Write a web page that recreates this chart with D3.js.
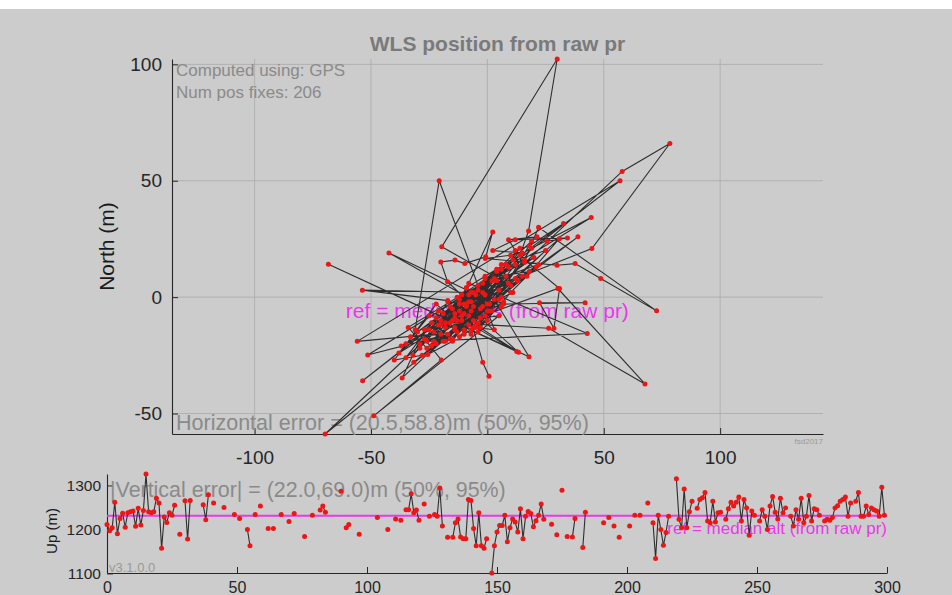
<!DOCTYPE html>
<html>
<head>
<meta charset="utf-8">
<script src="https://cdn.jsdelivr.net/npm/d3@7"></script>
<style>
  html, body { margin: 0; padding: 0; background: #cccccc; }
  svg { display: block; }
</style>
</head>
<body>
<svg id="fig" width="952" height="595"></svg>
<script>
// Horizontal WLS fixes, metres east / north of the median reference position (time order)
const eastM = [
  0.7,-2,-9,-14,-6,-19,-3,4,-8,-23,
  -16,-1,6,-12,-27,-36.6,57.9,78.4,44.9,-5,
  -11,2,-18,-7,9,-21,-13,-55.9,57,-53.6,
  -4,-30,-15,1,-24,-10,5,-20,-33,-8,
  12,-2,-17,-29,-31,-20.7,3,-6,-12,7,
  -22,-14,-38,-25,-3,10,-19.6,30,17.7,14,
  -1,-9,-16,3,17.9,-68.3,12.6,-5,-13,8,
  -26,-34,-11,15,0,-7,-22,-40,-28,-17,
  -51.4,44.6,19,-4,-12,6,-42.3,2,-9,-24,
  -15,11,-2,-20,-32,-7,-53.7,-17,-10,4,
  -25,-37,13,-20,-69.7,0,-8,16,-14,-31.6,
  38.9,21,-6,-18,5,-48.8,-19.8,-27,-11,5,
  -1,-15,-25.6,30.9,17,10,-3,-9,20,-13,
  8,-23,-7,12,-35,30.3,67.7,26.3,-16,-4,
  22,-10,-21,3,-29,14,-6,-14,2.3,-0.7,
  -9.7,-13.9,-20,-17.1,-8,9,-12,0,-26,42.9,
  -8,-18,6,-35,-22,32.7,18,12,9.1,21.3,
  25.6,34.4,12,2.3,15,10,-0.9,29.9,37.7,48.7,
  72.7,22,16,31,28.6,22.4,42,7,-5,13.4,
  -3,-11,4,-19,18,-1,-7,11,-15,25,
  6,-4,19,-10,1,-2
];
const northM = [
  -34,-28,-3,-14,2,-7,-5,7,-12,-19,
  -4,-8,0,-1,-14,-34.7,54,66,20.9,1,
  -10,7,-19,-6,13,-6,-15,-19,50,-35.9,
  3,-15,-5,-3,-11,-14,3,-16,-17,1,
  14,-4,-2,-22,-14,50,-14,-13,-6,-2,
  -20,-9,-24,-8,-9,5,21.6,102.3,28.4,18,
  9,4,-18,-1,-25.6,14.1,-23.4,-13,-10,14,
  -22,-13,1,9,-6,-16,-3,-27,-25,-16,
  -24.9,34.2,21,-11,-3,-4,19,-6,4,-21,
  -10,2,6,-10,-25,2,3,-1.5,-16,12,
  -14,-21,7,-12,-58.8,-3,-8,15,-13,-28,
  25.9,13,-10,-11,-8,-51,-27,-18,-8,-1,
  1,-19,-24.6,25.1,9,2,-13,-4,17,0,
  9,-15,-2,8,-20,3.7,-37.3,-13.4,-11,5,
  14,-7,-12,8,-20,21,-4,-7,28,17.3,
  14.4,15.9,15.1,6.6,-2,6,-17,-10,-19,-15.6,
  6,-13,12,-26,-9,31.6,22,20,24.7,25.9,
  24,25.4,24.7,20,19,18,16.6,13.7,14.4,8,
  -5.9,30,16,3.7,-13.4,-2.4,-2.4,-3,-12,-23.7,
  -9,1,11,-19,11,8,-14,16,-18,20,
  14,-15,24,-3,-6,2
];

// Time of each fix (s) and its altitude (m)
const tSec = [
  0,1,2,3,4,5,6,7,8,9,10,11,12,13,14,15,16,17,18,19,20,21,22,23,24,25,26,
  28,30,31,32,37,38,39,41,45,49,51,54,55,57,59,62,64,67,70,72,76,79,
  82,83,84,90,92,93,97,104,108,111,113,115,116,117,118,119,120,122,124,
  126,127,128,129,131,133,134,135,136,137,138,139,140,141,142,143,144,145,146,
  148,149,150,151,152,153,154,155,156,157,158,159,160,161,162,163,164,165,166,167,168,
  171,173,175,177,179,180,183,184,191,193,195,197,201,203,205,208,
  210,211,212,213,214,215,216,
  219,220,221,222,223,224,225,227,228,229,230,231,232,233,234,235,236,
  238,239,240,241,242,243,244,245,246,247,248,249,
  251,252,253,254,255,256,257,258,259,260,261,
  263,264,265,266,267,268,269,270,271,272,273,274,
  276,277,278,279,280,281,282,283,284,285,286,
  288,289,290,291,292,293,294,295,296,297,298,299
];
const upM = [
  1211,1197,1204,1262,1190,1225,1237,1205,1238,1240,1242,1207,1248,1210,1243,1326,1240,1238,1240,1271,1260,1157,1228,1216,1238,1232,1255,
  1189,1265,1178,1266,1256,1222,1279,1260,1250,1234,1225,1200,1163,1234,1253,1202,1202,1234,1218,1236,1184,1232,
  1244,1253,1239,1287,1204,1211,1189,1227,1200,1224,1221,1245,1245,1281,1238,1244,1221,1258,1230,
  1234,1230,1294,1208,1182,1182,1215,1224,1183,1179,1179,1268,1266,1202,1163,1238,1163,1157,1179,
  1101,1163,1194,1209,1209,1232,1172,1204,1224,1217,1194,1247,1179,1230,1241,1236,1206,1220,1232,1258,1223,
  1212,1188,1289,1184,1183,1225,1159,1239,1215,1227,1208,1182,1208,1232,1232,1260,
  1215,1134,1232,1200,1164,1193,1230,
  1315,1223,1204,1292,1204,1240,1264,1248,1268,1272,1284,1219,1215,1264,1217,1238,1239,
  1223,1247,1262,1253,1262,1274,1219,1268,1249,1187,1242,1232,
  1219,1245,1230,1200,1253,1275,1239,1224,1271,1238,1249,
  1230,1208,1245,1223,1271,1215,1230,1277,1219,1247,1245,1232,
  1219,1223,1221,1227,1249,1254,1264,1268,1274,1230,1260,
  1264,1284,1230,1230,1253,1234,1249,1245,1242,1230,1296,1232
];

// Tick values
const xTicksTop = [-100, -50, 0, 50, 100];
const yTicksTop = [-50, 0, 50, 100];
const xTicksUp = [0, 50, 100, 150, 200, 250, 300];
const yTicksUp = [1100, 1200, 1300];
const tRange = [0, 300];

// Annotation strings
const titleText = "WLS position from raw pr";
const constellation = "GPS";
const horizErr = [20.5, 58.8];
const vertErr = [22.0, 69.0];
const versionText = "v3.1.0.0";
const creditText = "fsd2017";

const FONT = "'Liberation Sans', Arial, Helvetica, sans-serif";
const AXIS_COL = "#262626";
const GRID_COL = "#a9a9a9";
const TEXT_GREY = "#8a8a8a";
const MAGENTA = "#ec36ec";
const DOT_COL = "#ec1616";
const LINE_COL = "#2e2e2e";

const svg = d3.select("#fig");
svg.append("rect").attr("width", 952).attr("height", 595).attr("fill", "#cccccc");
svg.append("rect").attr("width", 952).attr("height", 9).attr("fill", "#ffffff");

const fmt = d => String(d);

function styleAxis(g, size) {
  g.attr("font-family", FONT).attr("font-size", size);
  g.select(".domain").attr("stroke", AXIS_COL).attr("stroke-width", 1.1);
  g.selectAll(".tick line").attr("stroke", AXIS_COL).attr("stroke-width", 1);
  g.selectAll(".tick text").attr("fill", AXIS_COL);
}

// ---------- horizontal position panel (equal-aspect axes) ----------
const P = { l: 172, r: 823, t: 59, b: 434 };
const nExt = d3.extent(northM);
const eExt = d3.extent(eastM);
const pxPerM = (P.b - P.t) / (nExt[1] - nExt[0]);
const eMid = (eExt[0] + eExt[1]) / 2;
const halfW = (P.r - P.l) / 2 / pxPerM;
const x = d3.scaleLinear().domain([eMid - halfW, eMid + halfW]).range([P.l, P.r]);
const y = d3.scaleLinear().domain(nExt).range([P.b, P.t]);

const gTop = svg.append("g");
gTop.append("g").selectAll("line").data(xTicksTop).join("line")
  .attr("x1", d => x(d)).attr("x2", d => x(d)).attr("y1", P.t).attr("y2", P.b)
  .attr("stroke", GRID_COL).attr("stroke-width", 0.8);
gTop.append("g").selectAll("line").data(yTicksTop).join("line")
  .attr("x1", P.l).attr("x2", P.r).attr("y1", d => y(d)).attr("y2", d => y(d))
  .attr("stroke", GRID_COL).attr("stroke-width", 0.8);

gTop.append("g").attr("transform", `translate(0,${P.b})`)
  .call(d3.axisBottom(x).tickValues(xTicksTop).tickFormat(fmt).tickSizeInner(-6).tickSizeOuter(0).tickPadding(17))
  .call(g => styleAxis(g, 19));
gTop.append("g").attr("transform", `translate(${P.l},0)`)
  .call(d3.axisLeft(y).tickValues(yTicksTop).tickFormat(fmt).tickSizeInner(-6).tickSizeOuter(0).tickPadding(10))
  .call(g => styleAxis(g, 19));

svg.append("text").attr("x", (P.l + P.r) / 2).attr("y", 51)
  .attr("text-anchor", "middle").attr("font-family", FONT).attr("font-size", 21)
  .attr("font-weight", "bold").attr("fill", "#7a7a7a").text(titleText);

svg.append("text").attr("transform", `translate(114,${(P.t + P.b) / 2}) rotate(-90)`)
  .attr("text-anchor", "middle").attr("font-family", FONT).attr("font-size", 21)
  .attr("fill", "#1a1a1a").text("North (m)");

const info = svg.append("g").attr("font-family", FONT).attr("font-size", 17).attr("fill", TEXT_GREY);
info.append("text").attr("x", P.l + 4).attr("y", 76).text(`Computed using: ${constellation}`);
info.append("text").attr("x", P.l + 4).attr("y", 98).text(`Num pos fixes: ${eastM.length}`);

svg.append("text").attr("x", P.l + 4).attr("y", 430)
  .attr("font-family", FONT).attr("font-size", 21.5).attr("fill", TEXT_GREY)
  .text(`Horizontal error = (${horizErr[0].toFixed(1)},${horizErr[1].toFixed(1)})m (50%, 95%)`);

svg.append("text").attr("x", P.r).attr("y", 444).attr("text-anchor", "end")
  .attr("font-family", FONT).attr("font-size", 8).attr("fill", "#9a9a9a").text(creditText);

// reference marker at the median position
const rx = x(0), ry = y(0);
svg.append("text").attr("x", rx).attr("y", ry + 21).attr("text-anchor", "middle")
  .attr("font-family", FONT).attr("font-size", 21).attr("fill", MAGENTA)
  .text("ref = median pos (from raw pr)");
svg.append("path").attr("d", `M${rx - 20},${ry}H${rx + 20}M${rx},${ry - 20}V${ry + 20}`)
  .attr("stroke", MAGENTA).attr("stroke-width", 1.5).attr("fill", "none");

const hPts = eastM.map((e, i) => [e, northM[i]]);
svg.append("path").datum(hPts)
  .attr("d", d3.line().x(d => x(d[0])).y(d => y(d[1])))
  .attr("fill", "none").attr("stroke", LINE_COL).attr("stroke-width", 1.1);
svg.append("g").selectAll("circle").data(hPts).join("circle")
  .attr("cx", d => x(d[0])).attr("cy", d => y(d[1])).attr("r", 2.5).attr("fill", DOT_COL);

// ---------- altitude vs time panel ----------
const Q = { l: 107, r: 887, t: 474, b: 573 };
const xU = d3.scaleLinear().domain(tRange).range([Q.l, Q.r]);
const yU = d3.scaleLinear().domain(d3.extent(upM)).range([Q.b, Q.t]);

svg.append("g").attr("transform", `translate(0,${Q.b})`)
  .call(d3.axisBottom(xU).tickValues(xTicksUp).tickFormat(fmt).tickSizeInner(-6).tickSizeOuter(0).tickPadding(9))
  .call(g => styleAxis(g, 16));
svg.append("g").attr("transform", `translate(${Q.l},0)`)
  .call(d3.axisLeft(yU).tickValues(yTicksUp).tickFormat(fmt).tickSizeInner(-6).tickSizeOuter(0).tickPadding(6))
  .call(g => styleAxis(g, 15.5));

svg.append("text").attr("transform", `translate(57,531) rotate(-90)`)
  .attr("text-anchor", "middle").attr("font-family", FONT).attr("font-size", 15)
  .attr("fill", "#1a1a1a").text("Up (m)");

svg.append("text").attr("x", Q.l + 3).attr("y", 497)
  .attr("font-family", FONT).attr("font-size", 21.4).attr("fill", TEXT_GREY)
  .text(`|Vertical error| = (${vertErr[0].toFixed(1)},${vertErr[1].toFixed(1)})m (50%, 95%)`);
svg.append("text").attr("x", Q.l + 2).attr("y", 572)
  .attr("font-family", FONT).attr("font-size", 13).attr("fill", "#9a9a9a").text(versionText);

const medUp = d3.median(upM);
svg.append("line").attr("x1", Q.l).attr("x2", Q.r).attr("y1", yU(medUp)).attr("y2", yU(medUp))
  .attr("stroke", MAGENTA).attr("stroke-width", 2);
svg.append("text").attr("x", Q.r).attr("y", yU(medUp) + 18).attr("text-anchor", "end")
  .attr("font-family", FONT).attr("font-size", 17).attr("fill", MAGENTA)
  .text("ref = median alt (from raw pr)");

// join consecutive one-second fixes; leave gaps where epochs are missing
const upPts = tSec.map((t, i) => ({ t, u: upM[i] }));
const upSeq = [];
upPts.forEach((p, i) => {
  if (i > 0 && p.t - upPts[i - 1].t > 1) upSeq.push(null);
  upSeq.push(p);
});
svg.append("path").datum(upSeq)
  .attr("d", d3.line().defined(d => d !== null).x(d => xU(d.t)).y(d => yU(d.u)))
  .attr("fill", "none").attr("stroke", LINE_COL).attr("stroke-width", 1.1);
svg.append("g").selectAll("circle").data(upPts).join("circle")
  .attr("cx", d => xU(d.t)).attr("cy", d => yU(d.u)).attr("r", 2.5).attr("fill", DOT_COL);
</script>
</body>
</html>
